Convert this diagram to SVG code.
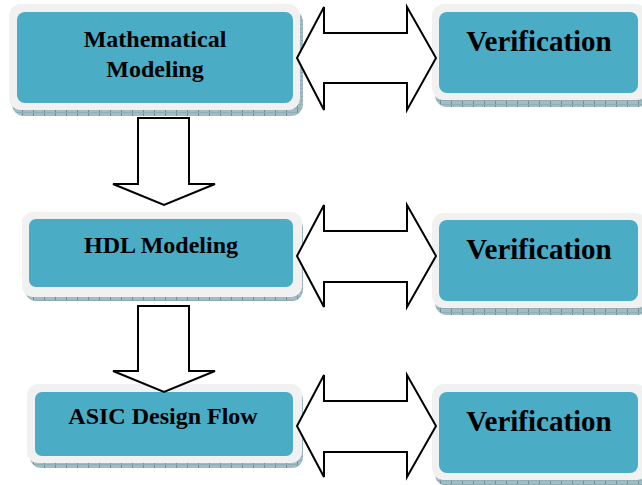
<svg xmlns="http://www.w3.org/2000/svg" width="642" height="485" viewBox="0 0 642 485">
  <defs>
    <pattern id="hatch" width="11" height="4" patternUnits="userSpaceOnUse">
      <rect width="11" height="4" fill="#a3bcc3"/>
      <rect x="0" y="0" width="1" height="4" fill="#6e8f98"/>
      <rect x="0" y="0" width="11" height="1" fill="#8fadb5"/>
    </pattern>
    <style>
      .shadow { fill: url(#hatch); }
      .frame { fill: #f1f1f1; }
      .face { fill: #4bacc6; }
      .label { font-family: 'Liberation Serif', serif; font-weight: 700; fill: #000; text-anchor: middle; }
      .small { font-size: 24px; }
      .big { font-size: 29px; }
      .arrow { fill: #fff; stroke: #000; stroke-width: 2; stroke-linejoin: miter; }
    </style>
  </defs>

  <g id="math-modeling">
    <rect class="shadow" x="12" y="10" width="291" height="106" rx="12"/>
    <rect class="frame" x="9" y="4" width="291" height="106" rx="12"/>
    <rect class="face" x="17" y="12" width="276" height="91" rx="8"/>
    <text class="label small" x="155" y="47" font-family="Liberation Serif">Mathematical</text>
    <text class="label small" x="155" y="77" font-family="Liberation Serif">Modeling</text>
  </g>

  <g id="hdl-modeling">
    <rect class="shadow" x="25" y="217" width="278" height="84" rx="11"/>
    <rect class="frame" x="22" y="212" width="280" height="85" rx="11"/>
    <rect class="face" x="29" y="219" width="264" height="68" rx="7"/>
    <text class="label small" x="161" y="253" font-family="Liberation Serif">HDL Modeling</text>
  </g>

  <g id="asic-flow">
    <rect class="shadow" x="30" y="389" width="273" height="79" rx="11"/>
    <rect class="frame" x="27" y="384" width="275" height="79" rx="11"/>
    <rect class="face" x="35" y="392" width="258" height="64" rx="7"/>
    <text class="label small" x="163" y="424" font-family="Liberation Serif">ASIC Design Flow</text>
  </g>

  <g id="verification-1">
    <rect class="shadow" x="435" y="10" width="215" height="97" rx="12"/>
    <rect class="frame" x="432" y="4" width="216" height="96" rx="12"/>
    <rect class="face" x="439" y="12" width="199" height="81" rx="8"/>
    <text class="label big" x="539" y="51" font-family="Liberation Serif">Verification</text>
  </g>

  <g id="verification-2">
    <rect class="shadow" x="435" y="219" width="215" height="96" rx="12"/>
    <rect class="frame" x="432" y="213" width="216" height="95" rx="12"/>
    <rect class="face" x="439" y="220" width="199" height="81" rx="8"/>
    <text class="label big" x="539" y="259" font-family="Liberation Serif">Verification</text>
  </g>

  <g id="verification-3">
    <rect class="shadow" x="435" y="390" width="215" height="96" rx="12"/>
    <rect class="frame" x="432" y="384" width="216" height="96" rx="12"/>
    <rect class="face" x="439" y="392" width="199" height="81" rx="8"/>
    <text class="label big" x="539" y="431" font-family="Liberation Serif">Verification</text>
  </g>

  <!-- block arrows, drawn over the box edges they touch -->
  <g id="connectors">
    <path class="arrow" d="M138 118 H189 V184 H215 L164 205 L113 184 H138 Z"/>
    <path class="arrow" d="M138 306 H189 V371 H215 L164 392 L113 371 H138 Z"/>
    <path class="arrow" d="M297 58 L324 7 V33 H407 V7 L436 58 L407 110 V83 H324 V110 Z"/>
    <path class="arrow" d="M297 256 L324 205 V231 H407 V205 L436 256 L407 307 V282 H324 V307 Z"/>
    <path class="arrow" d="M297 426 L324 375 V401 H407 V375 L436 426 L407 477 V452 H324 V477 Z"/>
  </g>
</svg>
